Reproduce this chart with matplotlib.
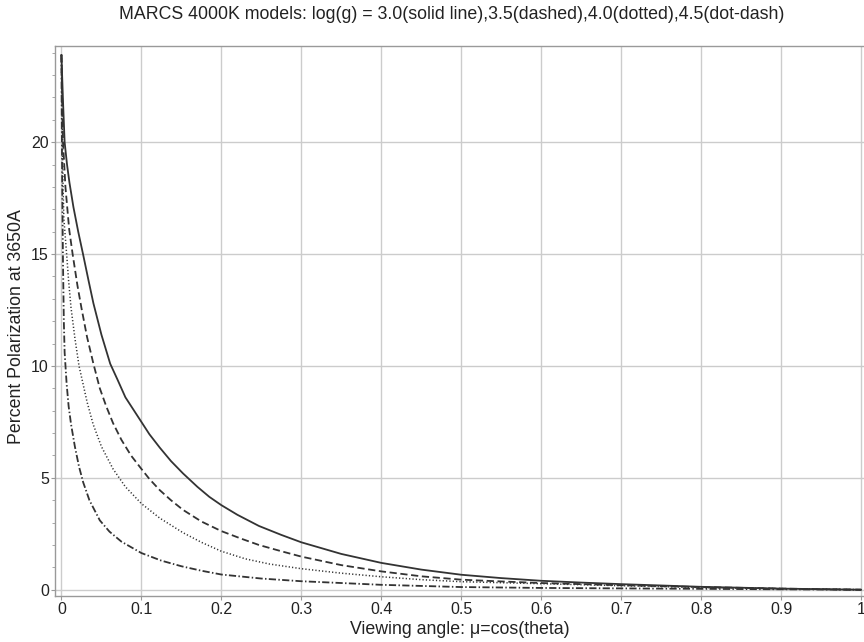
import matplotlib
matplotlib.use('Agg')
import matplotlib.pyplot as plt
from matplotlib.ticker import MultipleLocator

plt.rcParams['font.family'] = ['Liberation Sans', 'DejaVu Sans']

# log(g) = 3.0 (solid)
solid_x = [0.0, 0.002, 0.004, 0.007, 0.01, 0.015, 0.021, 0.027, 0.034, 0.04, 0.05,
           0.061, 0.07, 0.08, 0.09, 0.1, 0.11, 0.123, 0.137, 0.152, 0.17, 0.185,
           0.2, 0.22, 0.247, 0.275, 0.3, 0.35, 0.4, 0.45, 0.5, 0.55, 0.6, 0.65,
           0.7, 0.75, 0.8, 0.85, 0.9, 0.95, 1.0]
solid_y = [23.9, 21.8, 20.0, 19.0, 18.2, 17.1, 16.0, 15.0, 13.8, 12.8, 11.4,
           10.1, 9.4, 8.6, 8.05, 7.5, 6.95, 6.35, 5.75, 5.2, 4.6, 4.15,
           3.78, 3.35, 2.85, 2.45, 2.12, 1.6, 1.2, 0.9, 0.67, 0.52, 0.4, 0.32,
           0.25, 0.19, 0.13, 0.09, 0.05, 0.025, 0.0]

# log(g) = 3.5 (dashed)
dashed_x = [0.0, 0.002, 0.005, 0.0097, 0.014, 0.02, 0.025, 0.032, 0.04, 0.048,
            0.056, 0.0645, 0.075, 0.087, 0.1, 0.11, 0.123, 0.137, 0.152, 0.175,
            0.2, 0.225, 0.247, 0.275, 0.3, 0.35, 0.4, 0.45, 0.5, 0.55, 0.6,
            0.7, 0.8, 0.9, 1.0]
dashed_y = [23.9, 20.0, 18.0, 16.1, 15.0, 13.6, 12.6, 11.3, 10.1, 9.0,
            8.2, 7.45, 6.7, 6.0, 5.4, 4.95, 4.45, 4.0, 3.57, 3.05,
            2.62, 2.28, 2.0, 1.72, 1.48, 1.1, 0.82, 0.6, 0.45, 0.37, 0.3,
            0.2, 0.12, 0.05, 0.0]

# log(g) = 4.0 (dotted)
dotted_x = [0.0, 0.001, 0.002, 0.003, 0.0065, 0.009, 0.012, 0.017, 0.022, 0.0264,
            0.032, 0.0396, 0.05, 0.0645, 0.08, 0.1, 0.123, 0.152, 0.175, 0.2,
            0.23, 0.26, 0.3, 0.35, 0.4, 0.45, 0.5, 0.6, 0.7, 0.8, 0.9, 1.0]
dotted_y = [23.9, 21.0, 18.0, 16.6, 15.0, 13.8, 12.6, 11.2, 10.0, 9.3,
            8.4, 7.4, 6.4, 5.4, 4.6, 3.85, 3.2, 2.55, 2.12, 1.72,
            1.38, 1.15, 0.94, 0.74, 0.58, 0.45, 0.36, 0.27, 0.18, 0.1, 0.05, 0.0]

# log(g) = 4.5 (dot-dash)
dotdash_x = [0.0, 0.0005, 0.001, 0.002, 0.003, 0.004, 0.0065, 0.009, 0.012, 0.0168,
             0.022, 0.0272, 0.035, 0.048, 0.06, 0.075, 0.1, 0.125, 0.15, 0.175,
             0.2, 0.25, 0.3, 0.4, 0.5, 0.6, 0.7, 0.8, 0.9, 1.0]
dotdash_y = [23.9, 20.5, 18.0, 14.5, 12.0, 10.6, 9.2, 8.2, 7.4, 6.4,
             5.5, 4.8, 4.0, 3.1, 2.6, 2.15, 1.64, 1.3, 1.05, 0.85,
             0.68, 0.5, 0.38, 0.22, 0.12, 0.08, 0.06, 0.04, 0.02, 0.0]

x_ticks = [0, 0.1, 0.2, 0.3, 0.4, 0.5, 0.6, 0.7, 0.8, 0.9, 1]
x_ticklabels = ['0', '0.1', '0.2', '0.3', '0.4', '0.5', '0.6', '0.7', '0.8', '0.9', '1']
y_ticks = [0, 5, 10, 15, 20]

fig = plt.figure(figsize=(8.64, 6.42), dpi=100)
ax = fig.add_axes([0.0637, 0.072, 0.9375, 0.856])

lc = '#333333'
ax.plot(solid_x, solid_y, color=lc, lw=1.3)
ax.plot(dashed_x, dashed_y, color=lc, lw=1.3, dashes=(4, 2))
ax.plot(dotted_x, dotted_y, color=lc, lw=1.1, dashes=(0.8, 1.4))
ax.plot(dotdash_x, dotdash_y, color=lc, lw=1.3, dashes=(4, 1.3, 0.8, 1.3))

ax.set_xlim(-0.008, 1.005)
ax.set_ylim(-0.27, 24.29)
ax.set_xticks(x_ticks)
ax.set_xticklabels(x_ticklabels)
ax.set_yticks(y_ticks)
ax.yaxis.set_minor_locator(MultipleLocator(1))

ax.grid(True, color='#cccccc', lw=1.0)
ax.set_axisbelow(True)
for s in ax.spines.values():
    s.set_color('#999999')
    s.set_linewidth(1.0)
ax.tick_params(axis='both', which='major', length=3, width=0.8, color='#999999',
               labelsize=11.5, pad=1.5, labelcolor='#222222')
ax.tick_params(axis='y', which='minor', length=2, width=0.6, color='#999999')

ax.set_xlabel('Viewing angle: μ=cos(theta)', fontsize=12.8, color='#222222', labelpad=3)
ax.set_ylabel('Percent Polarization at 3650A', fontsize=12.8, color='#222222')
ax.yaxis.set_label_coords(-0.037, 0.49)
fig.suptitle('MARCS 4000K models: log(g) = 3.0(solid line),3.5(dashed),4.0(dotted),4.5(dot-dash)',
             fontsize=12.8, x=0.523, y=0.99, color='#222222')

fig.savefig('out.png', dpi=100)
